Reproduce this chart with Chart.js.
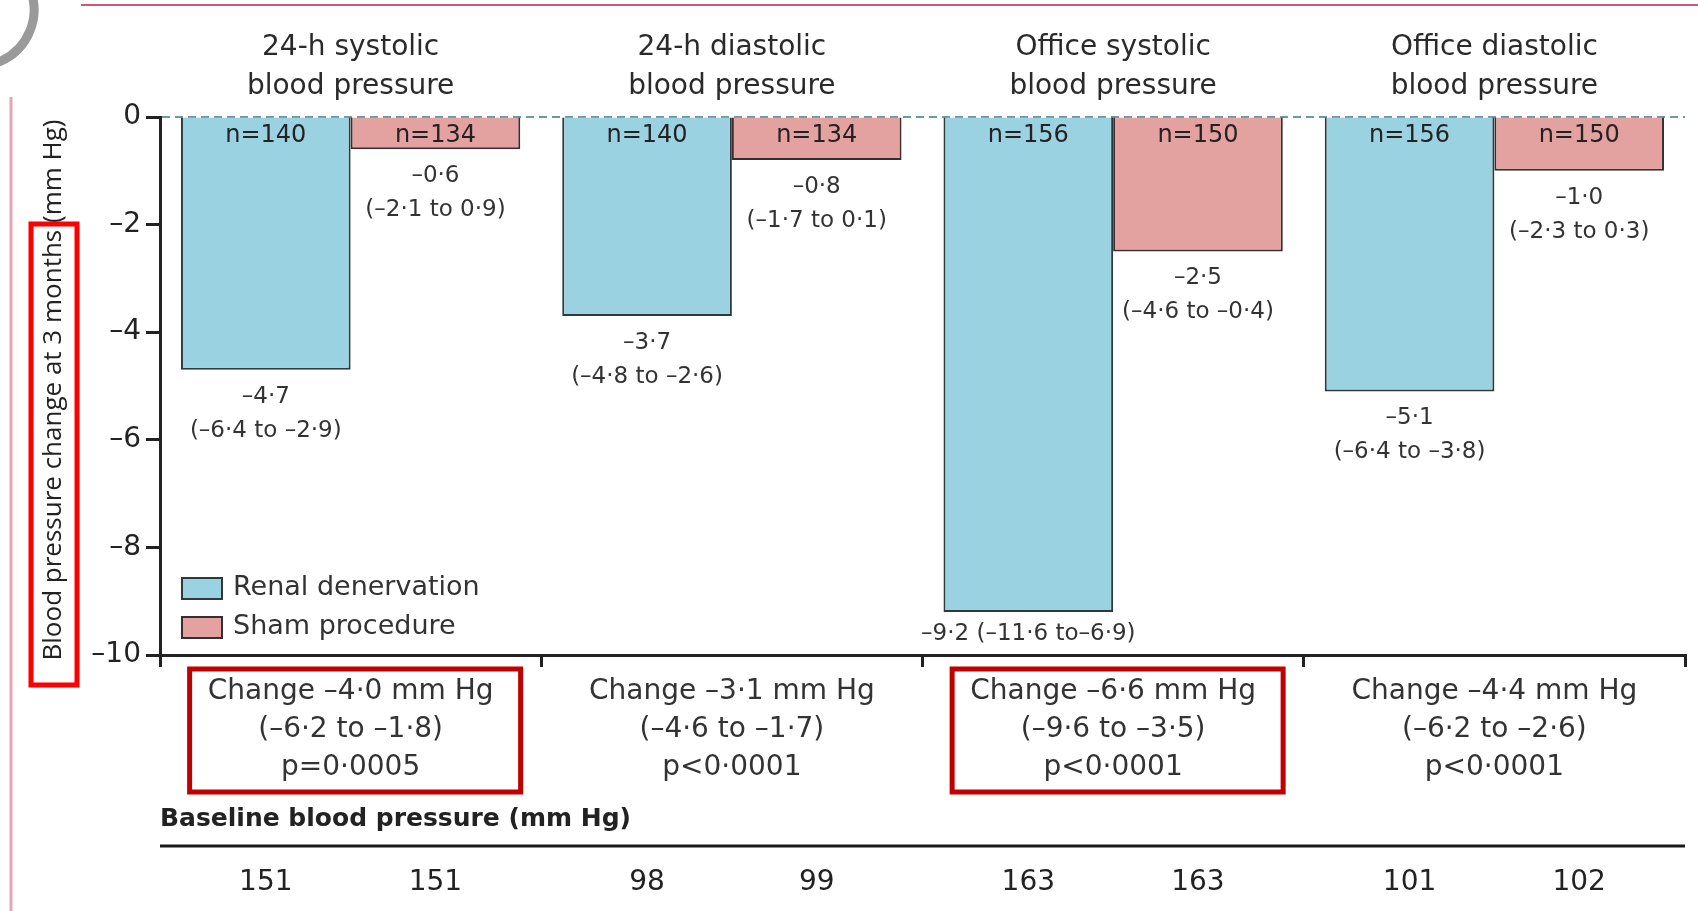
<!DOCTYPE html>
<html>
<head>
<meta charset="utf-8">
<script src="https://cdn.jsdelivr.net/npm/chart.js@4.4.1/dist/chart.umd.min.js"></script>
<style>
  html, body { margin: 0; padding: 0; background: #fff; overflow: hidden; }
  #wrap { width: 1698px; height: 911px; position: relative; }
</style>
</head>
<body>
<div id="wrap"><canvas id="c" width="1698" height="911"></canvas></div>
<script>
// Blood pressure change at 3 months, renal denervation vs sham procedure
const groupTitles = [
  ['24-h systolic', 'blood pressure'],
  ['24-h diastolic', 'blood pressure'],
  ['Office systolic', 'blood pressure'],
  ['Office diastolic', 'blood pressure']
];
const renalChange = [-4.7, -3.7, -9.2, -5.1];
const renalLow    = [-6.4, -4.8, -11.6, -6.4];
const renalHigh   = [-2.9, -2.6, -6.9, -3.8];
const renalN      = [140, 140, 156, 156];
const shamChange  = [-0.6, -0.8, -2.5, -1.0];
const shamLow     = [-2.1, -1.7, -4.6, -2.3];
const shamHigh    = [0.9, 0.1, -0.4, 0.3];
const shamN       = [134, 134, 150, 150];
const diffChange  = [-4.0, -3.1, -6.6, -4.4];
const diffLow     = [-6.2, -4.6, -9.6, -6.2];
const diffHigh    = [-1.8, -1.7, -3.5, -2.6];
const pValues     = ['p=0·0005', 'p<0·0001', 'p<0·0001', 'p<0·0001'];
const baselineRenal = [151, 98, 163, 101];
const baselineSham  = [151, 99, 163, 102];
const highlightedGroups = [0, 2];

const FONT = '"DejaVu Sans", "Open Sans", sans-serif';
const FONT_AXIS_TITLE = '"Open Sans", "DejaVu Sans", sans-serif';
const MINUS = '–';
const fmt = v => (v < 0 ? MINUS : '') + Math.abs(v).toFixed(1).replace('.', '·');

const overlay = {
  id: 'overlay',
  beforeDatasetsDraw(chart) {
    const { ctx, chartArea, scales } = chart;
    const y0 = scales.y.getPixelForValue(0);
    ctx.save();
    ctx.strokeStyle = '#6c98a4';
    ctx.lineWidth = 2;
    ctx.setLineDash([8, 5]);
    ctx.beginPath();
    ctx.moveTo(chartArea.left + 2, y0);
    ctx.lineTo(chartArea.right, y0);
    ctx.stroke();
    ctx.restore();
  },
  afterDraw(chart) {
    const { ctx, chartArea, scales } = chart;
    const xs = scales.x, ys = scales.y;
    const text = (s, x, y, size, color, align, weight, family) => {
      ctx.font = (weight || 'normal') + ' ' + size + 'px ' + (family || FONT);
      ctx.fillStyle = color || '#2a2a2a';
      ctx.textAlign = align || 'center';
      ctx.textBaseline = 'middle';
      ctx.fillText(s, x, y);
    };
    ctx.save();

    // page decorations
    ctx.strokeStyle = '#d4547a'; ctx.lineWidth = 2;
    ctx.beginPath(); ctx.moveTo(81, 5); ctx.lineTo(1698, 5); ctx.stroke();
    ctx.strokeStyle = '#e7a6b7'; ctx.lineWidth = 3;
    ctx.beginPath(); ctx.moveTo(11, 97); ctx.lineTo(11, 911); ctx.stroke();
    ctx.lineWidth = 9; ctx.strokeStyle = '#9a9a9a';
    ctx.beginPath(); ctx.arc(-22, 10, 56, -0.4, 1.45); ctx.stroke();
    ctx.strokeStyle = '#c0902c';
    ctx.beginPath(); ctx.arc(-22, 10, 56, 1.45, 1.9); ctx.stroke();

    // group titles
    groupTitles.forEach((t, i) => {
      const cx = xs.getPixelForValue(i);
      text(t[0], cx, 48, 28);
      text(t[1], cx, 87, 28);
    });

    // bar annotations
    const y0 = ys.getPixelForValue(0);
    const series = [
      { n: renalN, v: renalChange, lo: renalLow, hi: renalHigh },
      { n: shamN, v: shamChange, lo: shamLow, hi: shamHigh }
    ];
    series.forEach((s, d) => {
      chart.getDatasetMeta(d).data.forEach((el, i) => {
        text('n=' + s.n[i], el.x, y0 + 19, 24, '#222');
        const bottom = el.y;
        if (chartArea.bottom - bottom < 70) {
          text(fmt(s.v[i]) + ' (' + fmt(s.lo[i]) + ' to' + fmt(s.hi[i]) + ')', el.x, bottom + 22, 23, '#333');
        } else {
          text(fmt(s.v[i]), el.x, bottom + 27, 23, '#333');
          text('(' + fmt(s.lo[i]) + ' to ' + fmt(s.hi[i]) + ')', el.x, bottom + 61, 23, '#333');
        }
      });
    });

    // between-group differences
    groupTitles.forEach((t, i) => {
      const cx = xs.getPixelForValue(i);
      text('Change ' + fmt(diffChange[i]) + ' mm Hg', cx, 692, 28, '#333');
      text('(' + fmt(diffLow[i]) + ' to ' + fmt(diffHigh[i]) + ')', cx, 730, 28, '#333');
      text(pValues[i], cx, 768, 28, '#333');
    });
    ctx.strokeStyle = '#c00000'; ctx.lineWidth = 5;
    highlightedGroups.forEach(i => {
      const cx = xs.getPixelForValue(i);
      ctx.strokeRect(cx - 161, 669, 331, 123);
    });

    // legend
    chart.data.datasets.forEach((ds, d) => {
      const yy = 588 + d * 39;
      ctx.fillStyle = ds.backgroundColor;
      ctx.fillRect(182, yy - 10, 40, 21);
      ctx.strokeStyle = ds.borderColor; ctx.lineWidth = 2;
      ctx.strokeRect(182, yy - 10, 40, 21);
      text(ds.label, 233, yy, 27, '#333', 'left');
    });

    // y-axis title
    ctx.save();
    ctx.translate(54, 390);
    ctx.rotate(-Math.PI / 2);
    text('Blood pressure change at 3 months (mm Hg)', 0, 0, 26, '#222', 'center', 'normal', FONT_AXIS_TITLE);
    ctx.restore();
    ctx.strokeStyle = '#ff0000'; ctx.lineWidth = 5;
    ctx.strokeRect(31, 224, 46, 461);

    // baseline values
    text('Baseline blood pressure (mm Hg)', chartArea.left, 819, 25, '#222', 'left', 'bold');
    ctx.strokeStyle = '#1a1a1a'; ctx.lineWidth = 3;
    ctx.beginPath(); ctx.moveTo(chartArea.left, 846); ctx.lineTo(chartArea.right, 846); ctx.stroke();
    [baselineRenal, baselineSham].forEach((arr, d) => {
      chart.getDatasetMeta(d).data.forEach((el, i) => text(String(arr[i]), el.x, 883, 28, '#222'));
    });

    ctx.restore();
  }
};

new Chart(document.getElementById('c'), {
  type: 'bar',
  data: {
    labels: groupTitles.map(t => t.join(' ')),
    datasets: [
      { label: 'Renal denervation', data: renalChange, backgroundColor: '#9bd2e2', borderColor: '#2d3a3d', borderWidth: 2 },
      { label: 'Sham procedure', data: shamChange, backgroundColor: '#e3a19f', borderColor: '#3a2d2d', borderWidth: 2 }
    ]
  },
  options: {
    responsive: false,
    animation: false,
    devicePixelRatio: 1,
    categoryPercentage: 0.89,
    barPercentage: 1.0,
    layout: { padding: { left: 0, right: 13, top: 117, bottom: 0 } },
    plugins: { legend: { display: false }, tooltip: { enabled: false } },
    scales: {
      x: {
        offset: true,
        grid: { offset: true, drawOnChartArea: false, drawTicks: true, tickLength: 12, tickWidth: 3, tickColor: '#222', lineWidth: 3, color: '#222' },
        border: { display: true, color: '#222', width: 3 },
        ticks: { display: false },
        afterFit(s) { s.height = 256; }
      },
      y: {
        min: -10, max: 0,
        ticks: {
          stepSize: 2, color: '#222', padding: 5,
          font: { family: FONT, size: 28 },
          callback: v => (v === 0 ? '0' : MINUS + Math.abs(v))
        },
        grid: { drawOnChartArea: false, tickLength: 14, tickWidth: 3, tickColor: '#222' },
        border: { color: '#222', width: 3 },
        afterFit(s) { s.width = 160; }
      }
    }
  },
  plugins: [overlay]
});
</script>
</body>
</html>
